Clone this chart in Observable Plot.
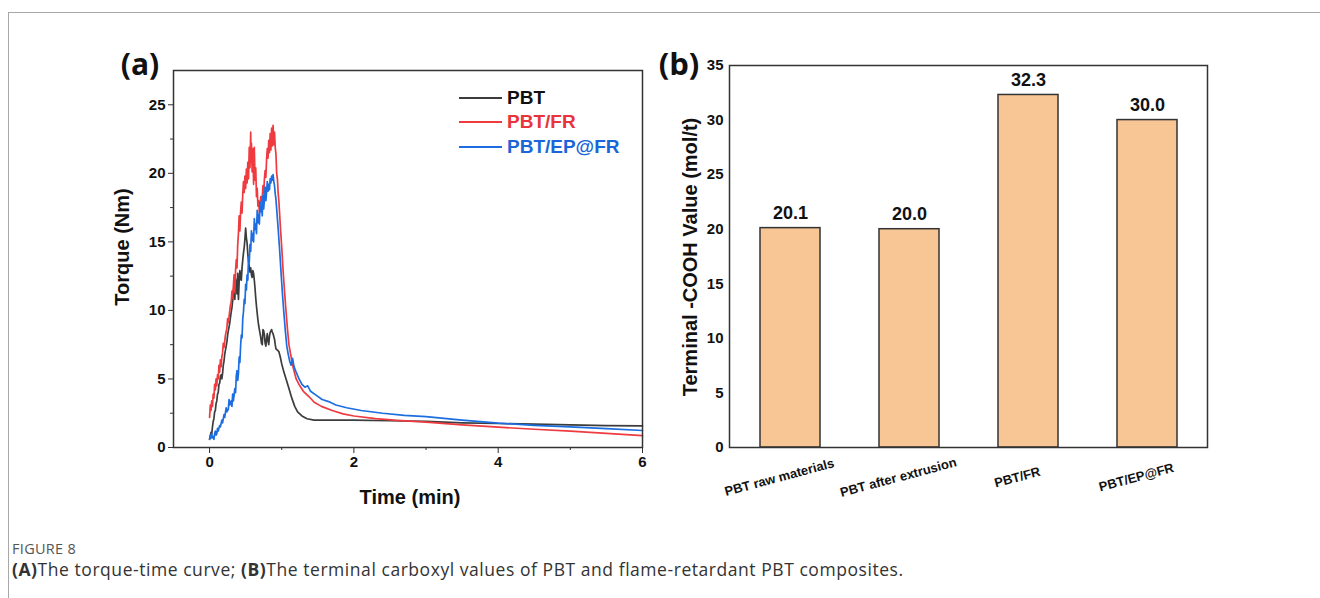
<!DOCTYPE html>
<html>
<head>
<meta charset="utf-8">
<script src="https://cdn.jsdelivr.net/npm/d3@7"></script>
<script src="https://cdn.jsdelivr.net/npm/@observablehq/plot@0.6"></script>
<style>
  html, body { margin: 0; padding: 0; background: #fff; }
  #page { position: relative; width: 1320px; height: 598px; overflow: hidden; font-family: "Liberation Sans", Arial, sans-serif; }
  #card { position: absolute; left: 8px; top: 12px; width: 1320px; height: 600px; border-top: 1px solid #a8a8a8; border-left: 1px solid #a8a8a8; }
  .abs { position: absolute; white-space: nowrap; }
  .c { transform: translate(-50%, -50%); }
  .rot { transform: translate(-50%, -50%) rotate(-90deg); }
  .b { font-weight: bold; color: #111; }
  #pa, #pb { position: absolute; top: 0; }
  #pa { left: 0; }
  #pb { left: 660px; }
  .leg-line { position: absolute; height: 2px; width: 43px; left: 459px; }
  .leg-text { position: absolute; left: 507px; font-weight: bold; font-size: 19px; transform: translateY(-50%); }
  #fig { left: 12px; top: 548px; transform: translateY(-50%); font-family: "Open Sans", sans-serif; font-size: 14.5px; letter-spacing: 0.3px; color: #555; }
  #cap { left: 12px; top: 569px; transform: translateY(-50%); font-family: "Open Sans", sans-serif; font-size: 17.5px; letter-spacing: 0.55px; color: #333; }
</style>
</head>
<body>
<div id="page">
  <div id="card"></div>
  <div id="pa"></div>
  <div id="pb"></div>
</div>
<script>
// ---------- Panel (a): torque-time curves ----------
const tPBT = [0.00,0.01,0.02,0.03,0.04,0.05,0.06,0.07,0.08,0.09,0.10,0.11,0.12,0.13,0.14,0.15,0.16,0.17,0.18,0.19,0.20,0.21,0.22,0.23,0.24,0.25,0.26,0.27,0.28,0.29,0.30,0.31,0.32,0.33,0.34,0.35,0.36,0.37,0.38,0.39,0.40,0.41,0.42,0.43,0.44,0.45,0.46,0.47,0.48,0.49,0.50,0.51,0.52,0.53,0.54,0.55,0.56,0.57,0.58,0.59,0.60,0.61,0.62,0.63,0.64,0.65,0.66,0.67,0.68,0.69,0.70,0.71,0.72,0.73,0.74,0.75,0.76,0.77,0.78,0.79,0.80,0.81,0.82,0.83,0.84,0.85,0.86,0.87,0.88,0.89,0.90,0.91,0.92,0.94,0.96,0.98,1.00,1.03,1.06,1.10,1.14,1.18,1.22,1.28,1.35,1.45,1.6,1.8,2.0,2.5,3.0,3.5,4.0,4.5,5.0,5.5,6.0];
const vPBT = [0.6,0.8,1.1,1.0,1.5,1.9,2.1,2.6,2.7,3.2,3.4,3.9,4.0,4.6,4.7,5.2,5.3,5.0,5.4,6.0,6.3,6.8,7.1,7.4,7.7,8.2,8.5,8.8,9.1,9.5,9.9,10.2,10.7,11.3,11.9,10.8,12.3,11.9,11.2,12.7,10.8,12.1,12.9,12.4,12.2,13.1,13.7,14.2,14.6,15.2,16.0,15.3,14.9,14.1,13.6,13.2,12.8,13.1,12.6,12.4,12.9,12.7,12.2,11.6,10.9,10.3,9.8,9.3,8.9,8.6,8.3,8.0,7.6,7.5,8.6,8.5,8.2,7.6,7.4,7.9,8.3,7.8,7.5,8.1,8.4,8.5,8.6,8.4,8.3,8.1,7.9,7.5,7.2,7.1,7.0,6.6,6.1,5.5,5.0,4.3,3.6,3.0,2.6,2.3,2.1,2.0,2.0,2.0,2.0,1.95,1.9,1.8,1.75,1.7,1.65,1.6,1.58];

const tFR = [0.00,0.01,0.02,0.03,0.04,0.05,0.06,0.07,0.08,0.09,0.10,0.11,0.12,0.13,0.14,0.15,0.16,0.17,0.18,0.19,0.20,0.22,0.24,0.25,0.26,0.28,0.29,0.30,0.31,0.32,0.33,0.34,0.35,0.36,0.37,0.38,0.39,0.40,0.41,0.42,0.43,0.44,0.45,0.46,0.47,0.48,0.49,0.50,0.51,0.52,0.53,0.54,0.55,0.56,0.57,0.575,0.58,0.59,0.60,0.61,0.62,0.63,0.64,0.65,0.66,0.67,0.68,0.69,0.70,0.71,0.72,0.73,0.74,0.75,0.76,0.77,0.78,0.79,0.80,0.81,0.82,0.83,0.84,0.85,0.86,0.87,0.88,0.89,0.90,0.91,0.92,0.93,0.94,0.95,0.96,0.98,1.00,1.02,1.04,1.06,1.08,1.10,1.13,1.16,1.20,1.25,1.30,1.38,1.45,1.55,1.7,1.85,2.0,2.3,2.6,3.0,3.5,4.0,4.5,5.0,5.5,6.0];
const vFR = [2.2,3.1,2.7,3.4,3.0,3.9,3.6,4.6,4.2,5.0,4.5,5.3,5.0,6.0,5.5,6.4,5.9,6.6,6.9,7.6,7.3,8.2,8.7,9.4,9.1,10.0,10.4,10.6,11.4,10.9,11.8,12.6,11.3,12.9,13.7,13.1,14.8,15.6,16.9,15.8,17.2,17.9,17.1,18.5,19.4,18.6,19.8,18.9,20.3,19.3,20.8,19.6,21.9,20.4,23.0,20.8,22.2,20.1,21.8,19.2,21.9,19.5,20.4,18.3,18.9,17.6,18.0,17.1,17.7,18.3,17.4,18.2,19.1,18.5,19.6,20.2,19.7,21.0,21.8,21.1,22.4,21.5,22.9,21.7,23.3,22.0,23.5,22.1,23.0,21.9,21.4,20.0,19.6,18.6,18.0,16.2,14.6,12.8,11.3,9.9,8.6,7.5,6.6,5.8,5.0,4.5,4.1,3.7,3.3,3.0,2.7,2.45,2.3,2.1,1.98,1.85,1.65,1.48,1.33,1.2,1.03,0.87];

const tEP = [0.00,0.01,0.02,0.03,0.04,0.05,0.06,0.07,0.08,0.09,0.10,0.11,0.12,0.14,0.15,0.17,0.18,0.20,0.21,0.23,0.24,0.26,0.27,0.28,0.30,0.31,0.32,0.33,0.35,0.36,0.37,0.38,0.39,0.40,0.41,0.42,0.43,0.44,0.45,0.46,0.47,0.48,0.49,0.50,0.51,0.52,0.53,0.54,0.55,0.56,0.57,0.58,0.59,0.60,0.61,0.62,0.63,0.64,0.65,0.66,0.67,0.68,0.69,0.70,0.71,0.72,0.73,0.74,0.75,0.76,0.77,0.78,0.79,0.80,0.81,0.82,0.83,0.84,0.85,0.86,0.87,0.88,0.89,0.90,0.91,0.92,0.93,0.95,0.97,0.99,1.01,1.03,1.05,1.07,1.09,1.11,1.13,1.15,1.17,1.20,1.24,1.28,1.32,1.36,1.40,1.48,1.56,1.65,1.75,1.9,2.1,2.4,2.7,3.0,3.5,4.0,4.5,5.0,5.5,6.0];
const vEP = [0.6,0.9,0.7,1.0,0.7,0.8,0.6,1.0,1.2,0.9,1.0,1.4,1.2,1.6,1.5,2.0,1.8,2.4,2.2,2.9,2.6,2.8,3.5,3.1,3.4,3.0,3.9,3.4,4.3,4.0,5.2,5.6,4.9,5.4,6.6,6.2,7.4,8.2,8.0,9.4,9.9,10.8,10.5,11.9,11.5,12.6,12.2,13.9,13.5,14.8,14.3,15.8,15.1,15.6,15.0,16.7,15.9,16.3,15.6,17.3,16.4,17.0,16.3,17.9,17.2,17.6,16.9,18.4,17.4,18.1,19.0,18.0,18.6,19.4,18.7,19.2,18.8,19.6,19.3,19.8,19.5,19.9,19.4,19.1,18.5,18.1,17.4,16.0,14.5,12.8,11.2,9.8,8.5,7.4,6.8,6.3,6.0,6.5,5.9,5.5,5.0,4.6,4.4,4.5,4.1,3.8,3.5,3.35,3.1,2.9,2.7,2.5,2.35,2.25,2.0,1.78,1.62,1.5,1.37,1.24];

const seriesNames = ["PBT", "PBT/FR", "PBT/EP@FR"];
const seriesColors = ["#3c3c3c", "#ef3b3f", "#1c6ee0"];
const legendTextColors = ["#111111", "#e8343a", "#1a66d9"];

const xTicksA = [0, 2, 4, 6];
const xMinorA = [1, 3, 5];
const yTicksA = [0, 5, 10, 15, 20, 25];
const yMinorA = [2.5, 7.5, 12.5, 17.5, 22.5];

// ---------- Panel (b): terminal carboxyl values ----------
const categories = ["PBT raw materials", "PBT after extrusion", "PBT/FR", "PBT/EP@FR"];
const cooh = [20.1, 20.0, 32.3, 30.0];
const yTicksB = [0, 5, 10, 15, 20, 25, 30, 35];

// ---------- build tables ----------
const zip = (ts, vs) => ts.map((t, i) => ({t, v: vs[i]}));
const curves = [zip(tPBT, vPBT), zip(tFR, vFR), zip(tEP, vEP)];
const bars = categories.map((name, i) => ({name, value: cooh[i]}));

const svgStyle = "font-family:'Liberation Sans', Arial, sans-serif; font-weight:bold; color:#111; overflow:visible; background:transparent;";

const plotA = Plot.plot({
  width: 660, height: 520,
  marginLeft: 173, marginRight: 18, marginTop: 70, marginBottom: 73,
  style: svgStyle,
  x: {domain: [-0.5, 6]},
  y: {domain: [0, 27.5]},
  marks: [
    Plot.axisY({ticks: yTicksA, tickSize: 5, tickPadding: 3, fontSize: 15, fontWeight: "bold", label: null, stroke: "#333", tickFormat: d => String(d)}),
    Plot.axisY({ticks: yMinorA, tickSize: 3, text: null, label: null, stroke: "#333"}),
    Plot.axisX({ticks: xTicksA, tickSize: 6, tickPadding: 3, fontSize: 15, fontWeight: "bold", label: null, stroke: "#333", tickFormat: d => String(d)}),
    Plot.axisX({ticks: xMinorA, tickSize: 3, text: null, label: null, stroke: "#333"}),
    ...curves.map((c, i) => Plot.line(c, {x: "t", y: "v", stroke: seriesColors[i], strokeWidth: 1.7})),
    Plot.frame({stroke: "#333", strokeWidth: 1.5})
  ]
});
document.getElementById("pa").append(plotA);

const plotB = Plot.plot({
  width: 660, height: 520,
  marginLeft: 69, marginRight: 113, marginTop: 65, marginBottom: 73,
  style: svgStyle,
  x: {type: "band", domain: categories, paddingInner: 0.5, paddingOuter: 0.25, axis: null},
  y: {domain: [0, 35]},
  marks: [
    Plot.axisY({ticks: yTicksB, tickSize: 0, tickPadding: 6, fontSize: 15, fontWeight: "bold", label: null, tickFormat: d => String(d)}),
    Plot.barY(bars, {x: "name", y: "value", fill: "#f8c594", stroke: "#333", strokeWidth: 1.5}),
    Plot.text(bars, {x: "name", y: "value", text: d => d.value.toFixed(1), dy: -15, fontSize: 18, fontWeight: "bold", fill: "#111"}),
    Plot.text(categories, {x: d => d, frameAnchor: "bottom", text: d => d, dy: 34, dx: -10, rotate: -15, fontSize: 13, fontWeight: "bold", fill: "#111", textAnchor: "middle"}),
    Plot.frame({stroke: "#333", strokeWidth: 1.5})
  ]
});
document.getElementById("pb").append(plotB);

// ---------- text overlays ----------
const page = document.getElementById("page");
function addText(html, cls, style) {
  const d = document.createElement("div");
  d.className = "abs " + cls;
  d.setAttribute("style", style);
  d.innerHTML = html;
  page.append(d);
  return d;
}
addText("(a)", "c b", "left:140px; top:63px; font-size:30px; font-family:'Open Sans', sans-serif;");
addText("(b)", "c b", "left:679px; top:63px; font-size:31px; font-family:'Open Sans', sans-serif;");
addText("Torque (Nm)", "rot b", "left:122px; top:247px; font-size:20px;");
addText("Time (min)", "c b", "left:410px; top:497px; font-size:20px;");
addText("Terminal -COOH Value (mol/t)", "rot b", "left:690px; top:257px; font-size:20px;");

// legend
const legendY = [98, 122, 147];
seriesNames.forEach((name, i) => {
  const line = document.createElement("div");
  line.className = "leg-line";
  line.style.top = (legendY[i] - 1) + "px";
  line.style.background = seriesColors[i];
  page.append(line);
  const t = document.createElement("div");
  t.className = "leg-text";
  t.style.top = legendY[i] + "px";
  t.style.color = legendTextColors[i];
  t.textContent = name;
  page.append(t);
});

addText("FIGURE 8", "", "").id = "fig";
addText("<b>(A)</b>The torque-time curve; <b>(B)</b>The terminal carboxyl values of PBT and flame-retardant PBT composites.", "", "").id = "cap";
</script>
</body>
</html>
